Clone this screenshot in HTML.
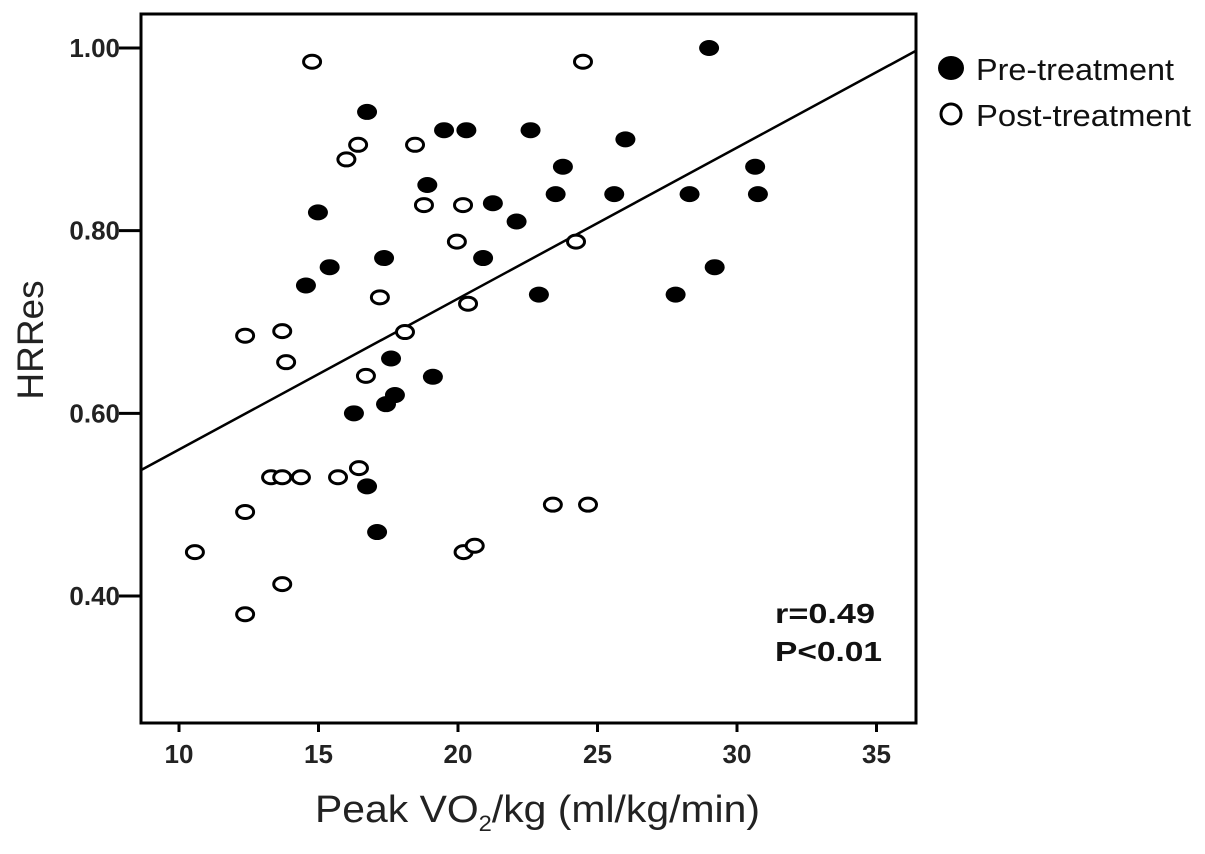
<!DOCTYPE html>
<html><head><meta charset="utf-8"><style>
body{margin:0;background:#fff;}
svg{display:block;font-family:"Liberation Sans",Arial,sans-serif;}
</style></head><body>
<svg id="chart" width="1205" height="854" viewBox="0 0 1205 854">
<rect x="141" y="14" width="775" height="709" fill="none" stroke="#000" stroke-width="3"/>
<g id="ticks"></g>
<g id="line"></g>
<g id="points"></g>
<text transform="translate(43,340) rotate(-90)" text-anchor="middle" font-size="37" fill="#222">HRRes</text>
<text x="315" y="822" textLength="445" lengthAdjust="spacingAndGlyphs" font-size="38" fill="#222">Peak VO<tspan font-size="22" dy="9">2</tspan><tspan dy="-9">/kg (ml/kg/min)</tspan></text>
<text x="775" y="623" textLength="100" lengthAdjust="spacingAndGlyphs" font-size="28" font-weight="bold" fill="#111">r=0.49</text>
<text x="775" y="661" textLength="107" lengthAdjust="spacingAndGlyphs" font-size="28" font-weight="bold" fill="#111">P&lt;0.01</text>
<g>
<ellipse cx="951" cy="68" rx="13" ry="12" fill="#000"/>
<text x="976" y="80" textLength="198" lengthAdjust="spacingAndGlyphs" font-size="31" fill="#111">Pre-treatment</text>
<ellipse cx="951" cy="114" rx="10" ry="10" fill="#fff" stroke="#000" stroke-width="3"/>
<text x="976" y="126" textLength="215" lengthAdjust="spacingAndGlyphs" font-size="31" fill="#111">Post-treatment</text>
</g>
</svg>
<script>
const xTicks=[10,15,20,25,30,35];
const yTicks=[0.40,0.60,0.80,1.00];
const yTickLabels=["0.40","0.60","0.80","1.00"];
const preX=[29.0,16.74,19.5,20.3,22.6,26.0,23.76,30.65,18.9,14.98,21.25,22.1,23.5,25.6,28.3,30.75,15.4,17.35,20.9,14.55,22.9,29.2,27.8,17.6,19.1,16.27,17.74,17.42,16.74,17.1];
const preY=[1.00,0.93,0.91,0.91,0.91,0.90,0.87,0.87,0.85,0.82,0.83,0.81,0.84,0.84,0.84,0.84,0.76,0.77,0.77,0.74,0.73,0.76,0.73,0.66,0.64,0.60,0.62,0.61,0.52,0.47];
const postX=[14.77,24.48,16.42,16.0,18.46,18.78,20.18,19.96,24.23,17.2,20.36,12.37,13.7,13.84,18.1,16.7,13.3,13.7,14.37,15.7,16.45,12.37,23.4,24.66,10.57,20.2,20.6,13.7,12.37];
const postY=[0.985,0.985,0.894,0.878,0.894,0.828,0.828,0.788,0.788,0.727,0.72,0.685,0.69,0.656,0.689,0.641,0.53,0.53,0.53,0.53,0.54,0.492,0.50,0.50,0.448,0.448,0.455,0.413,0.38];
const fitIntercept=0.395;
const fitSlope=0.01653;
const NS="http://www.w3.org/2000/svg";
const xs=v=>179+(v-10)*27.9;
const ys=v=>48+(1-v)*913.3;
const X0=141,X1=916,Y0=723;
function mk(tag,attrs,parent){const e=document.createElementNS(NS,tag);for(const k in attrs)e.setAttribute(k,attrs[k]);parent.appendChild(e);return e;}
const tg=document.getElementById('ticks');
xTicks.forEach(t=>{
 const l=mk('line',{x1:xs(t),x2:xs(t),y1:Y0,y2:Y0+9,stroke:'#000','stroke-width':3},tg);
 
 
 const tx=mk('text',{x:xs(t),y:763,'text-anchor':'middle','font-size':26,'font-weight':'bold',fill:'#222'},tg);
 tx.textContent=t;
 
 
});
yTicks.forEach((t,i)=>{
 const l=mk('line',{x1:X0-22,x2:X0,y1:ys(t),y2:ys(t),stroke:'#000','stroke-width':3},tg);
 
 
 const tx=mk('text',{x:X0-21,y:ys(t)+9,'text-anchor':'end','font-size':26,'font-weight':'bold',fill:'#222'},tg);
 tx.textContent=yTickLabels[i];
 
 
});
const xa=(X0-179)/27.9+10, xb=(X1-179)/27.9+10;
const fl=mk('line',{x1:X0,y1:ys(fitIntercept+fitSlope*xa),x2:X1,y2:ys(fitIntercept+fitSlope*xb),stroke:'#000','stroke-width':2.5},document.getElementById('line'));


const pg=document.getElementById('points');
preX.forEach((v,i)=>{
 const e=mk('ellipse',{cx:xs(v),cy:ys(preY[i]),rx:10,ry:8,fill:'#000'},pg);
 
 
});
postX.forEach((v,i)=>{
 const e=mk('ellipse',{cx:xs(v),cy:ys(postY[i]),rx:8.5,ry:6.5,fill:'#fff',stroke:'#000','stroke-width':3},pg);
 
 
});
</script>
</body></html>
